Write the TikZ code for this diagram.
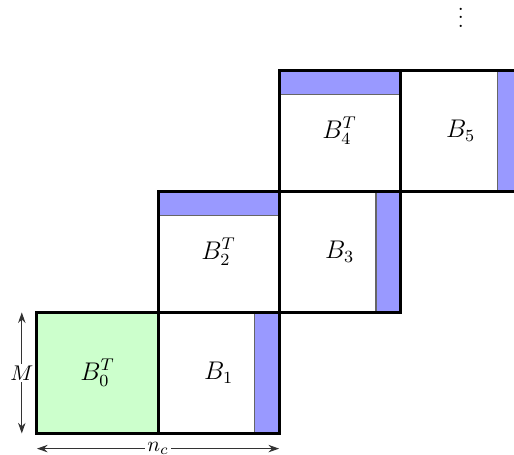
\documentclass[tikz,border=0pt]{standalone}
\usetikzlibrary{arrows.meta}
\begin{document}
\begin{tikzpicture}[
  blk/.style={draw=black, line width=1.4pt, minimum size=2cm, inner sep=0pt, outer sep=0pt, font=\large},
  stripedge/.style={draw=black!60, line width=0.5pt},
  dim/.style={<->, >={Stealth[length=5pt,width=3.5pt]}, draw=black!80, line width=0.5pt},
  dimlabel/.style={fill=white, inner sep=1pt}
]
\useasboundingbox (-0.61,-0.35) rectangle (7.88,7.16);
% strips (drawn first)
\fill[blue!40] (3.6,0) rectangle (4,2);
\draw[stripedge] (3.6,0) -- (3.6,2);
\fill[blue!40] (2,3.6) rectangle (4,4);
\draw[stripedge] (2,3.6) -- (4,3.6);
\fill[blue!40] (5.6,2) rectangle (6,4);
\draw[stripedge] (5.6,2) -- (5.6,4);
\fill[blue!40] (4,5.6) rectangle (6,6);
\draw[stripedge] (4,5.6) -- (6,5.6);
\fill[blue!40] (7.6,4) rectangle (8,6);
\draw[stripedge] (7.6,4) -- (7.6,6);
% blocks
\node[blk, fill=green!20] (b0) at (1,1) {$B_0^T$};
\node[blk] (b1) at (3,1) {$B_1$};
\node[blk] (b2) at (3,3) {$B_2^T$};
\node[blk] (b3) at (5,3) {$B_3$};
\node[blk] (b4) at (5,5) {$B_4^T$};
\node[blk] (b5) at (7,5) {$B_5$};
% dots
\node[inner sep=0pt, anchor=south] (dots) at (7,6.7) {$\vdots$};
% dimensions
\coordinate (mtop) at (-0.25,2);
\coordinate (mbot) at (-0.25,0);
\draw[dim] (mbot) -- (mtop) node[midway, dimlabel] {$M$};
\coordinate (nl) at (0,-0.25);
\coordinate (nr) at (4,-0.25);
\draw[dim] (nl) -- (nr) node[midway, dimlabel] {$n_c$};
\end{tikzpicture}
\end{document}
